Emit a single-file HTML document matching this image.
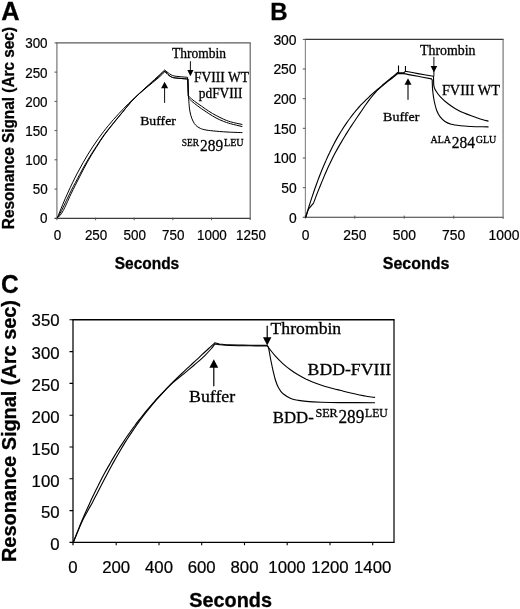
<!DOCTYPE html>
<html><head><meta charset="utf-8">
<style>
html,body{margin:0;padding:0;background:#fff;}
body{width:520px;height:609px;overflow:hidden;}
svg{display:block;will-change:transform;}
.s{font-family:"Liberation Sans",sans-serif;fill:#000;stroke:#000;stroke-width:0.22;}
.t{font-family:"Liberation Serif",serif;fill:#000;stroke:#000;stroke-width:0.3;}
.b{font-weight:bold;stroke-width:0.3;}
.c{fill:none;stroke:#000;stroke-width:0.95;stroke-linejoin:round;stroke-linecap:round;}
.f{fill:none;stroke:#555;stroke-width:1;}
.fc{fill:none;stroke:#000;stroke-width:1.1;}
</style></head><body>
<svg width="520" height="609" viewBox="0 0 520 609">
<rect width="520" height="609" fill="#fff"/>

<!-- ================= PANEL A ================= -->
<g id="A">
<text class="s b" x="1.3" y="19.6" font-size="25.4">A</text>
<text class="s b" font-size="16" transform="translate(13.5,229.2) rotate(-90)" textLength="202.2" lengthAdjust="spacingAndGlyphs">Resonance Signal (Arc sec)</text>
<g fill="none"><path d="M56.3 42.9H250.8" stroke="#5c5c5c" stroke-width="1.3"/><path d="M54.5 218.3H250.8" stroke="#3c3c3c" stroke-width="1.15"/><path d="M56.9 42.9V218.3" stroke="#777" stroke-width="1.2"/><path d="M250.2 42.9V220" stroke="#666" stroke-width="1.2"/></g>
<g class="f">
<path d="M54.5 42.9H57M54.5 72.1H57M54.5 101.4H57M54.5 130.6H57M54.5 159.8H57M54.5 189.1H57"/>
<path d="M56.9 217.6V220.2M95.6 217.6V220.2M134.2 217.6V220.2M172.9 217.6V220.2M211.5 217.6V220.2"/>
</g>
<g class="s" font-size="14.2" text-anchor="end">
<text x="47.6" y="48.4" textLength="22.4" lengthAdjust="spacingAndGlyphs">300</text><text x="47.6" y="77.5" textLength="22.4" lengthAdjust="spacingAndGlyphs">250</text><text x="47.6" y="106.6" textLength="22.4" lengthAdjust="spacingAndGlyphs">200</text>
<text x="47.6" y="135.7" textLength="22.4" lengthAdjust="spacingAndGlyphs">150</text><text x="47.6" y="164.7" textLength="22.4" lengthAdjust="spacingAndGlyphs">100</text><text x="47.6" y="193.8" textLength="14.9" lengthAdjust="spacingAndGlyphs">50</text><text x="47.6" y="222.9" textLength="7.5" lengthAdjust="spacingAndGlyphs">0</text>
</g>
<g class="s" font-size="14.2" text-anchor="middle">
<text x="57.5" y="240.3" textLength="7.5" lengthAdjust="spacingAndGlyphs">0</text><text x="96.1" y="240.3" textLength="22.4" lengthAdjust="spacingAndGlyphs">250</text><text x="134.7" y="240.3" textLength="22.4" lengthAdjust="spacingAndGlyphs">500</text>
<text x="173.3" y="240.3" textLength="22.4" lengthAdjust="spacingAndGlyphs">750</text><text x="211.9" y="240.3" textLength="29.8" lengthAdjust="spacingAndGlyphs">1000</text><text x="251" y="240.3" textLength="29.8" lengthAdjust="spacingAndGlyphs">1250</text>
</g>
<text class="s b" font-size="16" x="114.8" y="268.6" textLength="64.4" lengthAdjust="spacingAndGlyphs">Seconds</text>
<path class="c" d="M57.5 217.5C58.4 215.4 60.9 208.9 62.6 204.8C64.3 200.7 66.0 196.8 67.7 193.1C69.4 189.3 71.1 185.7 72.8 182.2C74.5 178.7 76.2 175.3 77.9 172.1C79.6 168.9 81.3 165.8 83.0 162.8C84.7 159.8 86.4 156.9 88.1 154.1C89.8 151.4 91.5 148.7 93.2 146.1C94.9 143.6 96.6 141.1 98.3 138.7C100.0 136.3 101.7 134.0 103.4 131.8C105.1 129.6 106.8 127.4 108.5 125.4C110.2 123.3 112.0 121.3 113.7 119.3C115.4 117.4 117.1 115.5 118.8 113.7C120.5 111.8 122.2 110.1 123.9 108.3C125.6 106.6 127.3 104.9 129.0 103.2C130.7 101.5 132.4 99.9 134.1 98.3C135.8 96.7 137.5 95.1 139.2 93.5C140.9 91.9 142.6 90.4 144.3 88.8C146.0 87.3 147.7 85.7 149.4 84.2C151.1 82.6 152.8 81.1 154.5 79.5C156.2 78.0 157.9 76.4 159.6 74.8C161.3 73.2 163.8 70.8 164.7 70.0L166.0 71.2C166.4 71.5 167.4 72.2 168.2 72.8C169.0 73.4 170.0 74.3 171.0 74.8C172.0 75.3 172.7 75.7 174.2 76.0C175.7 76.3 177.8 76.5 180.0 76.7C182.2 76.9 186.3 77.2 187.6 77.3L188.2 95.6C188.4 95.8 188.4 96.0 189.4 96.9C190.4 97.8 192.4 99.7 194.4 101.2C196.4 102.8 199.2 104.5 201.6 106.2C204.0 107.9 206.4 109.7 208.8 111.2C211.2 112.8 213.7 114.2 216.1 115.5C218.5 116.8 220.9 118.0 223.3 119.1C225.7 120.1 227.4 120.9 230.5 121.8C233.6 122.7 240.1 124.0 242.0 124.4" style="stroke-width:1.0"/>
<path class="c" d="M57.5 217.5C57.9 216.8 59.0 215.2 60.0 213.5C61.0 211.8 62.1 209.4 63.2 207.2C64.3 205.1 65.1 203.2 66.5 200.3C67.9 197.5 69.2 194.5 71.4 190.2C73.6 185.9 76.9 179.7 79.6 174.6C82.3 169.6 85.0 164.5 87.8 159.9C90.5 155.2 93.3 151.0 96.1 146.8C98.8 142.5 101.4 138.6 104.3 134.5C107.2 130.5 110.7 126.3 113.7 122.6C116.7 118.9 119.4 115.7 122.3 112.3C125.2 108.8 128.1 105.0 131.0 101.8C133.9 98.7 136.7 96.1 139.6 93.4C142.5 90.7 145.4 88.2 148.3 85.7C151.2 83.1 154.3 80.5 156.9 78.2C159.5 75.9 162.3 72.8 163.8 71.8C165.3 70.7 165.6 71.8 165.9 71.8L167.0 73.5C167.3 73.8 168.2 74.8 169.0 75.4C169.8 76.0 170.6 76.6 171.5 77.0C172.4 77.4 172.8 77.6 174.2 77.8C175.6 78.0 177.7 78.2 180.0 78.4C182.3 78.6 186.6 78.9 187.9 79.0L188.6 97.2C188.7 97.5 188.4 98.0 189.4 99.0C190.4 100.0 192.4 101.8 194.4 103.4C196.4 105.0 199.2 107.1 201.6 108.8C204.0 110.5 206.4 112.1 208.8 113.6C211.2 115.1 213.7 116.7 216.1 118.0C218.5 119.3 220.9 120.3 223.3 121.3C225.7 122.2 227.4 122.8 230.5 123.7C233.6 124.6 240.1 126.0 242.0 126.5" style="stroke-width:1.0"/>
<path class="c" d="M57.5 217.5C57.9 217.2 59.0 216.6 60.0 215.5C61.0 214.3 62.1 212.6 63.2 210.6C64.3 208.7 65.1 206.8 66.5 203.8C67.9 200.9 69.2 197.6 71.4 193.1C73.6 188.6 76.9 182.1 79.6 176.8C82.3 171.5 85.0 166.2 87.8 161.3C90.5 156.4 93.3 151.9 96.1 147.6C98.8 143.2 101.4 139.2 104.3 135.1C107.2 131.0 110.7 126.9 113.7 123.1C116.7 119.3 119.4 116.1 122.3 112.6C125.2 109.0 128.1 105.2 131.0 102.0C133.9 98.9 136.7 96.2 139.6 93.5C142.5 90.9 145.4 88.5 148.3 86.1C151.2 83.7 154.3 81.3 156.9 79.1C159.5 76.9 162.6 74.0 163.8 72.7C165.0 71.3 164.1 71.4 164.2 71.2L167.0 73.5C167.3 73.8 168.2 74.8 169.0 75.4C169.8 76.0 170.6 76.6 171.5 77.0C172.4 77.4 172.8 77.6 174.2 77.8C175.6 78.0 177.7 78.2 180.0 78.4C182.3 78.6 186.6 78.9 187.9 79.0L188.4 96.5C188.4 97.0 188.5 97.5 188.7 99.4C188.9 101.3 189.1 105.4 189.4 108.1C189.8 110.8 190.2 113.1 190.8 115.3C191.4 117.5 192.2 119.4 193.0 121.1C193.8 122.8 194.7 124.2 195.9 125.4C197.1 126.6 198.5 127.5 200.2 128.3C201.9 129.1 203.3 129.5 206.0 130.0C208.7 130.5 212.0 130.8 216.1 131.2C220.2 131.6 226.2 132.0 230.5 132.2C234.8 132.4 240.1 132.5 242.0 132.6" style="stroke-width:1.0"/>
<!-- annotations -->
<text class="t" font-size="14.2" x="172" y="57.6" textLength="54" lengthAdjust="spacingAndGlyphs">Thrombin</text>
<path class="c" d="M190.4 61.6V71"/><path d="M187.3 70.1L190.4 76.3 193.5 70.1Z" fill="#000"/>
<text class="t" font-size="13.8" x="194" y="82.3" textLength="55" lengthAdjust="spacingAndGlyphs">FVIII WT</text>
<text class="t" font-size="13.8" x="198.8" y="98" textLength="43.7" lengthAdjust="spacingAndGlyphs">pdFVIII</text>
<path class="c" d="M164.6 102.5V87"/><path d="M161.1 88.2L164.6 81.8 168.1 88.2Z" fill="#000"/>
<text class="t" font-size="13.5" x="140.2" y="124.7" textLength="35.7" lengthAdjust="spacingAndGlyphs">Buffer</text>
<text class="t" font-size="10.3" x="181.8" y="146" textLength="17.3" lengthAdjust="spacingAndGlyphs">SER</text>
<text class="t" font-size="17.4" x="200.1" y="151" textLength="23.1" lengthAdjust="spacingAndGlyphs">289</text>
<text class="t" font-size="10" x="224" y="145.6" textLength="19.6" lengthAdjust="spacingAndGlyphs">LEU</text>
</g>

<!-- ================= PANEL B ================= -->
<g id="B">
<text class="s b" x="270.2" y="19.6" font-size="24">B</text>
<g fill="none"><path d="M304.8 39.4H503.7" stroke="#383838" stroke-width="1.15"/><path d="M302.8 217.3H503.7" stroke="#383838" stroke-width="1.1"/><path d="M305.4 39.4V217.3" stroke="#888" stroke-width="1.15"/><path d="M503.1 39.4V219" stroke="#777" stroke-width="1.2"/></g>
<g class="f">
<path d="M302.8 39.4H305.4M302.8 69.0H305.4M302.8 98.7H305.4M302.8 128.3H305.4M302.8 158.0H305.4M302.8 187.7H305.4"/>
<path d="M305.4 215.6V218.6M354.8 215.6V218.6M404.2 215.6V218.6M453.7 215.6V218.6"/>
</g>
<g class="s" font-size="14.3" text-anchor="end">
<text x="296.6" y="44.5" textLength="23.2" lengthAdjust="spacingAndGlyphs">300</text><text x="296.6" y="74.2" textLength="23.2" lengthAdjust="spacingAndGlyphs">250</text><text x="296.6" y="103.8" textLength="23.2" lengthAdjust="spacingAndGlyphs">200</text>
<text x="296.6" y="133.5" textLength="23.2" lengthAdjust="spacingAndGlyphs">150</text><text x="296.6" y="163.2" textLength="23.2" lengthAdjust="spacingAndGlyphs">100</text><text x="296.6" y="192.8" textLength="15.4" lengthAdjust="spacingAndGlyphs">50</text><text x="296.6" y="222.5" textLength="7.7" lengthAdjust="spacingAndGlyphs">0</text>
</g>
<g class="s" font-size="14.3" text-anchor="middle">
<text x="305.5" y="240" textLength="7.7" lengthAdjust="spacingAndGlyphs">0</text><text x="354.9" y="240" textLength="23.2" lengthAdjust="spacingAndGlyphs">250</text><text x="404.3" y="240" textLength="23.2" lengthAdjust="spacingAndGlyphs">500</text>
<text x="453.6" y="240" textLength="23.2" lengthAdjust="spacingAndGlyphs">750</text><text x="504" y="240" textLength="30.9" lengthAdjust="spacingAndGlyphs">1000</text>
</g>
<text class="s b" font-size="16.2" x="382.8" y="268.9" textLength="66.6" lengthAdjust="spacingAndGlyphs">Seconds</text>
<path class="c" d="M305.8 217.0C306.5 214.8 308.5 208.1 309.8 203.9C311.1 199.7 312.5 195.7 313.8 191.8C315.1 187.9 316.5 184.2 317.8 180.6C319.1 177.1 320.5 173.6 321.8 170.3C323.1 167.1 324.4 163.9 325.8 160.9C327.1 157.9 328.4 155.0 329.8 152.2C331.1 149.4 332.4 146.8 333.8 144.2C335.1 141.7 336.4 139.3 337.8 136.9C339.1 134.6 340.4 132.4 341.8 130.3C343.1 128.1 344.4 126.1 345.8 124.1C347.1 122.2 348.4 120.3 349.8 118.5C351.1 116.7 352.4 115.0 353.7 113.4C355.1 111.7 356.4 110.1 357.7 108.6C359.1 107.1 360.4 105.6 361.7 104.2C363.1 102.8 364.4 101.5 365.7 100.1C367.1 98.8 368.4 97.6 369.7 96.3C371.1 95.1 372.4 93.9 373.7 92.7C375.1 91.5 376.4 90.4 377.7 89.2C379.1 88.1 380.4 87.0 381.7 85.9C383.0 84.7 384.4 83.6 385.7 82.5C387.0 81.4 388.4 80.4 389.7 79.2C391.0 78.1 392.4 77.0 393.7 75.9C395.0 74.8 397.0 73.1 397.7 72.5L398.6 72.6C399.5 72.6 402.9 72.8 403.8 72.8L405.4 71.3C407.5 71.7 413.3 72.8 418.0 73.6C422.7 74.4 430.8 75.8 433.4 76.2L433.5 76.9C433.6 78.5 433.5 83.9 433.9 86.2C434.3 88.5 434.7 89.0 435.8 90.8C436.9 92.6 438.3 94.7 440.4 96.9C442.4 99.1 445.5 101.8 448.1 103.8C450.7 105.8 453.2 107.4 455.8 108.9C458.4 110.4 460.9 111.7 463.5 112.8C466.1 113.9 468.6 114.8 471.2 115.7C473.8 116.7 476.0 117.6 478.8 118.5C481.6 119.4 486.6 120.7 488.1 121.1" style="stroke-width:1.12"/>
<path class="c" d="M305.8 217.0C306.2 215.8 307.3 211.8 308.1 210.1C308.9 208.3 309.9 207.6 310.8 206.4C311.7 205.2 312.6 204.5 313.5 202.9C314.4 201.2 315.1 198.8 316.0 196.4C316.9 194.1 317.8 191.8 319.0 188.9C320.2 186.0 321.7 182.2 323.0 179.1C324.3 175.9 325.7 172.7 327.0 169.8C328.3 166.8 329.7 164.0 331.0 161.2C332.3 158.5 333.5 156.1 335.0 153.3C336.5 150.5 338.3 147.3 340.0 144.4C341.7 141.5 343.3 138.7 345.0 136.0C346.7 133.3 348.3 130.6 350.0 128.0C351.7 125.4 353.3 122.9 355.0 120.5C356.7 118.0 358.3 115.6 360.0 113.1C361.7 110.7 363.3 108.2 365.0 105.8C366.7 103.4 368.3 101.1 370.0 98.9C371.7 96.7 373.3 94.6 375.0 92.8C376.7 90.9 378.2 89.5 380.0 87.9C381.8 86.2 384.0 84.6 386.0 82.9C388.0 81.3 390.1 79.7 392.0 78.2C393.9 76.6 396.8 74.3 397.7 73.5L403.5 73.6C405.9 74.0 413.3 75.4 418.0 76.3C422.7 77.2 429.3 78.5 431.6 78.9L432.2 80.0C432.3 81.8 432.3 87.2 432.7 90.8C433.1 94.4 433.6 98.2 434.3 101.5C435.0 104.8 435.8 108.2 436.8 110.8C437.8 113.4 438.8 115.1 440.2 116.9C441.6 118.7 443.2 120.3 445.0 121.5C446.8 122.7 448.6 123.6 451.2 124.3C453.8 125.0 457.1 125.4 460.4 125.8C463.7 126.2 466.6 126.3 471.2 126.5C475.8 126.7 485.3 126.8 488.1 126.9" style="stroke-width:1.12"/>
<path class="c" style="stroke-width:1.1;stroke-linecap:butt" d="M398.5 72.5V65.6M405.45 71.5V66"/>
<!-- annotations -->
<text class="t" font-size="13.9" x="420" y="54.5" textLength="55.5" lengthAdjust="spacingAndGlyphs">Thrombin</text>
<path class="c" d="M433.9 57.3V76"/><path d="M430.6 66L433.9 72.6 437.2 66Z" fill="#000"/>
<text class="t" font-size="14.3" x="441.9" y="94.5" textLength="58.2" lengthAdjust="spacingAndGlyphs">FVIII WT</text>
<path class="c" d="M408 99.3V84" style="stroke-width:1.25;stroke:#222"/><path d="M404.5 84.8L408 78.3 411.5 84.8Z" fill="#000"/>
<text class="t" font-size="13.4" x="383.1" y="121.4" textLength="36.2" lengthAdjust="spacingAndGlyphs">Buffer</text>
<text class="t" font-size="10.2" x="430.6" y="143.1" textLength="20.4" lengthAdjust="spacingAndGlyphs">ALA</text>
<text class="t" font-size="16.8" x="451.8" y="148" textLength="23.2" lengthAdjust="spacingAndGlyphs">284</text>
<text class="t" font-size="10.2" x="475.7" y="143" textLength="20.6" lengthAdjust="spacingAndGlyphs">GLU</text>
</g>

<!-- ================= PANEL C ================= -->
<g id="C">
<text class="s b" x="0.9" y="292.6" font-size="25.8" textLength="17.7" lengthAdjust="spacingAndGlyphs">C</text>
<text class="s b" font-size="19.6" transform="translate(16,562) rotate(-90)" textLength="262" lengthAdjust="spacingAndGlyphs">Resonance Signal (Arc sec)</text>
<g fill="none" stroke="#000"><path d="M72.4 319.8H394.6" stroke-width="1.6"/><path d="M69.5 542.4H394.6" stroke-width="1.3"/><path d="M73 319.8V545.2" stroke-width="1.25"/><path d="M394 319.8V542.4" stroke-width="1.3" stroke="#111"/></g>
<g class="fc">
<path d="M69.5 319.8H73M69.5 351.6H73M69.5 383.4H73M69.5 415.2H73M69.5 447.0H73M69.5 478.8H73M69.5 510.6H73"/>
<path d="M116.2 542V545.2M159 542V545.2M201.7 542V545.2M244.5 542V545.2M287.2 542V545.2M330 542V545.2M372.7 542V545.2"/>
</g>
<g class="s" font-size="16.8" text-anchor="end">
<text x="59.6" y="326.2">350</text><text x="59.6" y="359.1">300</text><text x="59.6" y="390.9">250</text><text x="59.6" y="422.8">200</text><text x="59.6" y="454.6">150</text><text x="59.6" y="486.5">100</text><text x="59.6" y="518.3">50</text><text x="59.6" y="550.2">0</text>
</g>
<g class="s" font-size="16.8" text-anchor="middle">
<text x="73" y="572.6">0</text><text x="116.2" y="572.6">200</text><text x="159" y="572.6">400</text><text x="201.7" y="572.6">600</text>
<text x="244.5" y="572.6">800</text><text x="287" y="572.6">1000</text><text x="330" y="572.6">1200</text><text x="372.7" y="572.6">1400</text>
</g>
<text class="s b" font-size="19.8" x="189.3" y="607.4" textLength="82.7" lengthAdjust="spacingAndGlyphs">Seconds</text>
<path class="c" d="M73.4 542.0C74.4 539.4 77.5 531.5 79.5 526.6C81.6 521.6 83.6 516.8 85.7 512.1C87.7 507.5 89.8 503.0 91.8 498.6C93.9 494.2 95.9 490.0 98.0 486.0C100.0 481.9 102.1 477.9 104.1 474.1C106.2 470.3 108.2 466.6 110.3 463.1C112.3 459.5 114.4 456.1 116.4 452.7C118.5 449.4 120.5 446.2 122.6 443.1C124.6 439.9 126.7 436.9 128.7 434.0C130.8 431.1 132.8 428.2 134.9 425.5C136.9 422.7 139.0 420.1 141.0 417.5C143.1 414.9 145.1 412.4 147.2 409.9C149.2 407.5 151.3 405.1 153.3 402.8C155.4 400.4 157.4 398.2 159.5 396.0C161.5 393.8 163.6 391.6 165.6 389.5C167.7 387.4 169.7 385.3 171.8 383.2C173.8 381.2 175.9 379.2 177.9 377.2C180.0 375.2 182.0 373.3 184.1 371.3C186.1 369.4 188.2 367.5 190.2 365.6C192.3 363.7 194.3 361.8 196.4 359.9C198.4 358.0 200.5 356.1 202.5 354.2C204.6 352.3 206.6 350.5 208.7 348.5C210.7 346.6 213.8 343.8 214.8 342.8L219.4 344.0C221.2 344.1 224.9 344.7 230.0 344.9C235.1 345.1 243.9 345.1 250.0 345.2C256.1 345.3 263.8 345.3 266.5 345.3L266.9 345.5C268.3 347.3 272.7 353.1 275.4 356.2C278.1 359.2 280.5 361.5 283.1 363.8C285.7 366.1 288.2 368.1 290.8 370.0C293.4 371.9 295.9 373.6 298.5 375.1C301.1 376.6 303.6 377.9 306.2 379.2C308.8 380.4 311.2 381.6 313.8 382.6C316.4 383.6 318.9 384.4 321.5 385.2C324.1 386.0 326.1 386.6 329.2 387.5C332.3 388.4 336.4 389.4 340.0 390.3C343.6 391.2 346.4 392.0 350.8 393.0C355.2 394.0 362.2 395.5 366.2 396.2C370.2 396.9 373.2 397.2 374.6 397.4" style="stroke-width:1.12"/>
<path class="c" d="M73.4 542.0C74.1 540.3 76.2 535.4 77.7 531.8C79.2 528.2 80.9 524.0 82.5 520.6C84.1 517.2 85.8 514.3 87.4 511.4C89.0 508.4 90.6 505.9 92.2 502.9C93.8 499.9 95.5 496.5 97.1 493.4C98.7 490.2 100.3 487.2 101.9 484.0C103.5 480.9 105.2 477.7 106.8 474.7C108.4 471.6 110.0 468.6 111.6 465.7C113.2 462.7 114.9 459.9 116.5 457.0C118.1 454.2 119.7 451.4 121.3 448.7C122.9 446.0 124.7 443.1 126.2 440.6C127.8 438.2 128.1 437.6 130.6 433.9C133.1 430.2 137.7 423.3 141.2 418.6C144.7 413.8 148.2 409.5 151.7 405.3C155.2 401.1 158.8 397.1 162.3 393.4C165.8 389.6 169.4 385.9 172.9 382.7C176.4 379.5 180.0 377.0 183.5 374.1C187.0 371.1 190.5 368.2 194.0 365.2C197.5 362.1 201.8 358.5 204.6 355.8C207.4 353.1 209.3 350.9 211.0 349.0C212.7 347.0 214.3 344.8 215.0 344.0L219.4 344.6C221.2 344.8 224.9 345.3 230.0 345.5C235.1 345.7 243.9 345.7 250.0 345.8C256.1 345.9 263.6 345.9 266.3 345.9L266.9 345.6C267.2 346.0 267.9 345.3 268.5 347.7C269.1 350.1 270.0 356.1 270.8 360.0C271.6 363.9 272.3 367.5 273.1 370.8C273.9 374.1 274.5 377.2 275.4 380.0C276.3 382.8 277.2 385.4 278.5 387.7C279.8 390.0 281.1 392.0 283.1 393.8C285.2 395.6 288.2 397.3 290.8 398.4C293.4 399.5 295.9 399.9 298.5 400.4C301.1 400.9 302.4 401.1 306.2 401.4C310.0 401.7 315.9 402.0 321.5 402.2C327.1 402.4 331.1 402.5 340.0 402.6C348.9 402.7 368.8 402.7 374.6 402.7" style="stroke-width:1.12"/>
<!-- annotations -->
<path class="c" d="M267.2 326.2V338" style="stroke-width:1.2"/><path d="M263 337.2L267.2 345.6 271.4 337.2Z" fill="#000"/>
<text class="t" font-size="16.6" x="270.6" y="333.5" textLength="70.6" lengthAdjust="spacingAndGlyphs">Thrombin</text>
<text class="t" font-size="17" x="307.6" y="375.3" textLength="83.6" lengthAdjust="spacingAndGlyphs">BDD-FVIII</text>
<path class="c" d="M213.8 385.8V366" style="stroke-width:1.2"/><path d="M209.4 367.8L213.8 359.3 218.2 367.8Z" fill="#000"/>
<text class="t" font-size="17.3" x="189" y="402.4" textLength="46.2" lengthAdjust="spacingAndGlyphs">Buffer</text>
<text class="t" font-size="17.2" x="272.8" y="422.6" textLength="41" lengthAdjust="spacingAndGlyphs">BDD-</text>
<text class="t" font-size="11.8" x="315.4" y="416.6" textLength="22.3" lengthAdjust="spacingAndGlyphs">SER</text>
<text class="t" font-size="18.2" x="338.5" y="422.9" textLength="25.8" lengthAdjust="spacingAndGlyphs">289</text>
<text class="t" font-size="11.8" x="365" y="416.7" textLength="22.8" lengthAdjust="spacingAndGlyphs">LEU</text>
</g>
</svg>
</body></html>
